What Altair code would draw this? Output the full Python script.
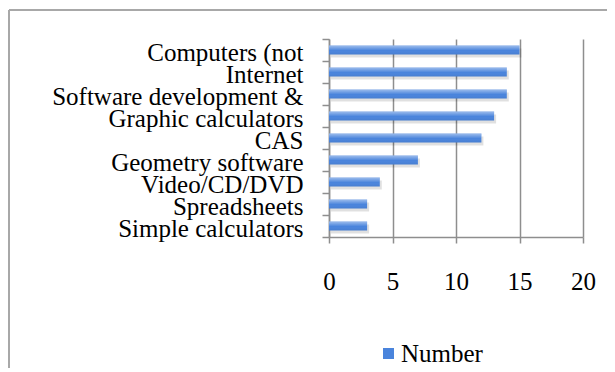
import altair as alt
import pandas as pd

categories = ["Computers (not", "Internet", "Software development &", "Graphic calculators",
              "CAS", "Geometry software", "Video/CD/DVD", "Spreadsheets", "Simple calculators"]
values = [15, 14, 14, 13, 12, 7, 4, 3, 3]
series_name = "Number"
x_ticks = [0, 5, 10, 15, 20]

df = pd.DataFrame({"category": categories, "value": values,
                   "series": [series_name] * len(categories)})
frame_df = pd.DataFrame({"k": [0]})

FONT = "Liberation Serif, Times New Roman, serif"
GRAY = "#8e8e8e"
BAR = "#4A84DC"

xscale = alt.Scale(domain=[0, 20], nice=False)
yscale = alt.Scale(domain=categories, paddingInner=0, paddingOuter=0)

base = alt.Chart(df)

shadow = base.mark_bar(height={"band": 0.4}, color="#000000", opacity=0.12,
                       xOffset=2, yOffset=3).encode(
    x=alt.X("value:Q", scale=xscale),
    y=alt.Y("category:N", scale=yscale, sort=categories),
)

bars = base.mark_bar(height={"band": 0.4}).encode(
    x=alt.X("value:Q", scale=xscale,
            axis=alt.Axis(values=x_ticks, title=None, grid=True, gridColor=GRAY, gridWidth=1.5,
                          domainColor=GRAY, domainWidth=1.5, tickColor=GRAY, tickWidth=1.5,
                          tickSize=6, labelFont=FONT, labelFontSize=25, labelColor="#000000",
                          labelPadding=46, labelBaseline="alphabetic", labelFlush=False,
                          labelOverlap=False)),
    y=alt.Y("category:N", scale=yscale, sort=categories,
            axis=alt.Axis(title=None, grid=False, tickBand="extent", tickSize=7,
                          tickColor=GRAY, tickWidth=1.5, domainColor=GRAY, domainWidth=1.5,
                          labelFont=FONT, labelFontSize=25, labelColor="#000000",
                          labelLimit=400, labelPadding=19, labelBaseline="alphabetic",
                          labelOffset=10)),
    color=alt.Color("series:N", scale=alt.Scale(range=[BAR]),
                    legend=alt.Legend(title=None, orient="none", legendX=47, legendY=302,
                                      symbolType="square", symbolSize=121, symbolStrokeWidth=0,
                                      labelFont=FONT, labelFontSize=25, labelColor="#000000",
                                      labelOffset=0, padding=0)),
)

gloss = base.mark_bar(
    height={"band": 0.4},
    fill=alt.Gradient(gradient="linear", x1=0, x2=0, y1=0, y2=1,
                      stops=[alt.GradientStop(color="rgba(255,255,255,0.45)", offset=0),
                             alt.GradientStop(color="rgba(255,255,255,0)", offset=0.55),
                             alt.GradientStop(color="rgba(0,0,0,0.06)", offset=1)]),
).encode(
    x=alt.X("value:Q", scale=xscale),
    y=alt.Y("category:N", scale=yscale, sort=categories),
)

left_rule = alt.Chart(frame_df).mark_rule(color="#a8a8a8", strokeWidth=2).encode(
    x=alt.value(-320), y=alt.value(-29), y2=alt.value(400))
top_rule = alt.Chart(frame_df).mark_rule(color="#a8a8a8", strokeWidth=2).encode(
    x=alt.value(-320), x2=alt.value(400), y=alt.value(-29))

chart = alt.layer(left_rule, top_rule, shadow, bars, gloss).properties(
    width=254, height=198,
    autosize=alt.AutoSizeParams(type="none"),
    padding={"left": 321, "top": 31, "right": 24, "bottom": 131},
).configure_view(strokeWidth=0)

chart.save("out.html", embed_options={"renderer": "svg", "actions": False})
